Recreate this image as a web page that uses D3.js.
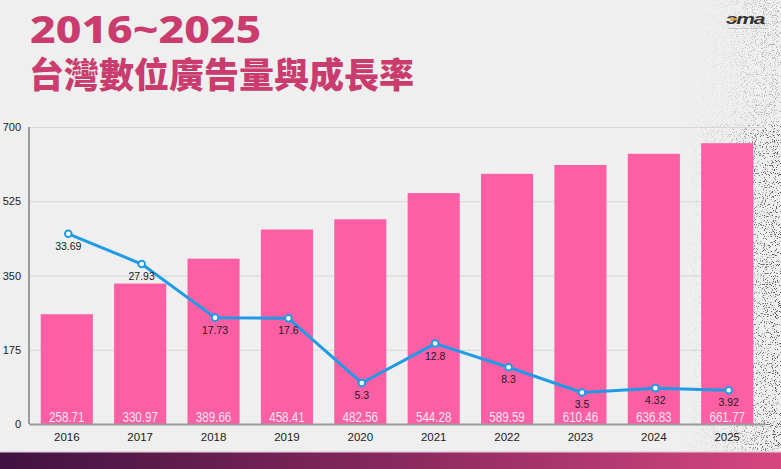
<!DOCTYPE html>
<html>
<head>
<meta charset="utf-8">
<script src="https://cdn.jsdelivr.net/npm/d3@7"></script>
<style>
  html, body { margin: 0; padding: 0; background: #efefef; }
  svg { display: block; }
</style>
</head>
<body>
<div id="chart"></div>
<script>
// --- Data ---
const YEARS = ["2016", "2017", "2018", "2019", "2020", "2021", "2022", "2023", "2024", "2025"];
const AD_VOLUME = [258.71, 330.97, 389.66, 458.41, 482.56, 544.28, 589.59, 610.46, 636.83, 661.77];
const GROWTH_RATE = [33.69, 27.93, 17.73, 17.6, 5.3, 12.8, 8.3, 3.5, 4.32, 3.92];
const Y_TICKS = [0, 175, 350, 525, 700];

// --- Layout ---
const WIDTH = 781;
const HEIGHT = 469;
const PLOT = { left: 29, right: 765, top: 127, bottom: 424 };
const BAR_COLOR = "#fd5fa4";
const LINE_COLOR = "#1f9ae6";
const TITLE_COLOR = "#c93c6d";
const FONT = "'Liberation Sans', Arial, sans-serif";

const svg = d3.select("#chart")
  .append("svg")
  .attr("width", WIDTH)
  .attr("height", HEIGHT);

const defs = svg.append("defs");
svg.append("rect").attr("width", WIDTH).attr("height", HEIGHT).attr("fill", "#efefef");

// --- Grain decoration on the right edge ---
// the rect's gradient alpha decides where the speckles show
const fade = defs.append("linearGradient").attr("id", "grainFade")
  .attr("x1", "0%").attr("x2", "100%");
fade.append("stop").attr("offset", "0%").attr("stop-color", "#000").attr("stop-opacity", 0);
fade.append("stop").attr("offset", "45%").attr("stop-color", "#000").attr("stop-opacity", 0.25);
fade.append("stop").attr("offset", "75%").attr("stop-color", "#000").attr("stop-opacity", 0.7);
fade.append("stop").attr("offset", "100%").attr("stop-color", "#000").attr("stop-opacity", 1);

const grain = defs.append("filter").attr("id", "grain")
  .attr("color-interpolation-filters", "sRGB")
  .attr("x", 0).attr("y", 0).attr("width", 1).attr("height", 1);
grain.append("feTurbulence")
  .attr("type", "fractalNoise").attr("baseFrequency", 0.9)
  .attr("numOctaves", 2).attr("seed", 7).attr("result", "noise");
grain.append("feColorMatrix").attr("in", "noise").attr("type", "matrix")
  .attr("values", "0 0 0 0 0.3  0 0 0 0 0.3  0 0 0 0 0.3  -10 0 0 0 4.15")
  .attr("result", "dots");
grain.append("feComposite").attr("in", "dots").attr("in2", "SourceGraphic")
  .attr("operator", "in");

// sparse near the top, denser down the side
svg.append("rect")
  .attr("x", 680).attr("y", 0).attr("width", 101).attr("height", 125)
  .attr("fill", "url(#grainFade)")
  .attr("opacity", 0.45)
  .attr("filter", "url(#grain)");
svg.append("rect")
  .attr("x", 680).attr("y", 125).attr("width", 101).attr("height", 327)
  .attr("fill", "url(#grainFade)")
  .attr("filter", "url(#grain)");

// --- Title ---
const title = svg.append("g")
  .attr("fill", TITLE_COLOR)
  .attr("font-weight", 900);
title.append("text")
  .attr("transform", "translate(30,43) scale(1.17,1)")
  .attr("font-size", 38).attr("font-family", "'Noto Sans', 'Liberation Sans', sans-serif")
  .attr("font-weight", 800).text("2016~2025");
title.append("text").attr("x", 29).attr("y", 88)
  .attr("font-family", "'Noto Sans CJK TC', 'Noto Sans', sans-serif")
  .attr("font-size", 35).text("台灣數位廣告量與成長率");

// --- Logo ---
const logo = svg.append("g").attr("transform", "translate(726,12)");
logo.append("text")
  .attr("transform", "translate(0,12) scale(1.5,1)")
  .attr("font-family", FONT).attr("font-size", 14).attr("font-weight", 700)
  .attr("font-style", "italic").attr("fill", "#333")
  .attr("letter-spacing", -0.8).text("эma");
logo.append("rect").attr("x", 4).attr("y", 6.3).attr("width", 7).attr("height", 2).attr("fill", "#f0a030");
logo.append("text").attr("x", 2).attr("y", 17)
  .attr("font-family", FONT).attr("font-size", 2.4).attr("fill", "#888")
  .attr("textLength", 40).attr("lengthAdjust", "spacingAndGlyphs")
  .text("Taiwan Digital Media and Marketing Association");

// --- Scales ---
const x = d3.scaleBand()
  .domain(YEARS)
  .range([PLOT.left, PLOT.right])
  .paddingInner(0.29)
  .paddingOuter(0.16);

const y = d3.scaleLinear()
  .domain([0, 700])
  .range([PLOT.bottom, PLOT.top]);

// hidden secondary scale for the growth rate line
const yRate = d3.scaleLinear()
  .domain([-2.5, 54])
  .range([PLOT.bottom, PLOT.top]);

// --- Grid ---
svg.append("g")
  .attr("transform", `translate(${PLOT.left},0)`)
  .call(d3.axisLeft(y).tickValues(Y_TICKS).tickSize(-(PLOT.right - PLOT.left)).tickFormat(""))
  .call(g => g.select(".domain").remove())
  .call(g => g.selectAll(".tick line").attr("stroke", "#d6d6d6").attr("stroke-width", 1.2));

// --- Y tick labels ---
svg.append("g")
  .attr("transform", `translate(${PLOT.left},0)`)
  .call(d3.axisLeft(y).tickValues(Y_TICKS).tickSize(0).tickPadding(8))
  .call(g => g.select(".domain").remove())
  .call(g => g.selectAll("text")
    .attr("font-family", FONT).attr("font-size", 11).attr("fill", "#222"));

// --- Bars ---
svg.append("g")
  .selectAll("rect")
  .data(YEARS)
  .join("rect")
  .attr("x", d => x(d))
  .attr("width", x.bandwidth())
  .attr("y", (d, i) => y(AD_VOLUME[i]))
  .attr("height", (d, i) => y(0) - y(AD_VOLUME[i]))
  .attr("fill", BAR_COLOR);

// bar value labels (narrow, like the reference)
svg.append("g")
  .selectAll("text")
  .data(YEARS)
  .join("text")
  .attr("transform", d => `translate(${x(d) + x.bandwidth() / 2},${y(0) - 2.5}) scale(0.8,1)`)
  .attr("text-anchor", "middle")
  .attr("font-family", FONT)
  .attr("font-size", 14.5)
  .attr("fill", "#fde4ef")
  .text((d, i) => AD_VOLUME[i]);

// --- Axes lines ---
svg.append("line")
  .attr("x1", PLOT.left).attr("x2", PLOT.left)
  .attr("y1", PLOT.top).attr("y2", PLOT.bottom)
  .attr("stroke", "#9a9a9a").attr("stroke-width", 2);

svg.append("g")
  .attr("transform", `translate(0,${PLOT.bottom})`)
  .call(d3.axisBottom(x).tickSize(0).tickPadding(9))
  .call(g => g.select(".domain").attr("stroke", "#9a9a9a").attr("stroke-width", 2))
  .call(g => g.selectAll("text")
    .attr("font-family", FONT).attr("font-size", 11.5).attr("fill", "#1a1a1a"));

// --- Growth rate line ---
const cx = d => x(d) + x.bandwidth() / 2 + 1.5;
const line = d3.line()
  .x(d => cx(d))
  .y((d, i) => yRate(GROWTH_RATE[i]));

svg.append("path")
  .datum(YEARS)
  .attr("d", line)
  .attr("fill", "none")
  .attr("stroke", LINE_COLOR)
  .attr("stroke-width", 3)
  .attr("stroke-linejoin", "round");

svg.append("g")
  .selectAll("circle")
  .data(YEARS)
  .join("circle")
  .attr("cx", d => cx(d))
  .attr("cy", (d, i) => yRate(GROWTH_RATE[i]))
  .attr("r", 3.3)
  .attr("fill", "#fff")
  .attr("stroke", LINE_COLOR)
  .attr("stroke-width", 2);

svg.append("g")
  .selectAll("text")
  .data(YEARS)
  .join("text")
  .attr("x", d => cx(d))
  .attr("y", (d, i) => yRate(GROWTH_RATE[i]) + 16)
  .attr("text-anchor", "middle")
  .attr("font-family", FONT)
  .attr("font-size", 10.5)
  .attr("fill", "#1a1a1a")
  .text((d, i) => GROWTH_RATE[i]);

// --- Bottom band ---
const grad = defs.append("linearGradient")
  .attr("id", "bandGrad").attr("x1", "0%").attr("x2", "100%");
grad.append("stop").attr("offset", "0%").attr("stop-color", "#3f1241");
grad.append("stop").attr("offset", "50%").attr("stop-color", "#87285e");
grad.append("stop").attr("offset", "100%").attr("stop-color", "#d6477f");

svg.append("rect")
  .attr("x", 0).attr("y", 451).attr("width", WIDTH).attr("height", 1.5)
  .attr("fill", "#e6d2dc");
svg.append("rect")
  .attr("x", 0).attr("y", 452.5).attr("width", WIDTH).attr("height", HEIGHT - 452.5)
  .attr("fill", "url(#bandGrad)");
</script>
</body>
</html>
